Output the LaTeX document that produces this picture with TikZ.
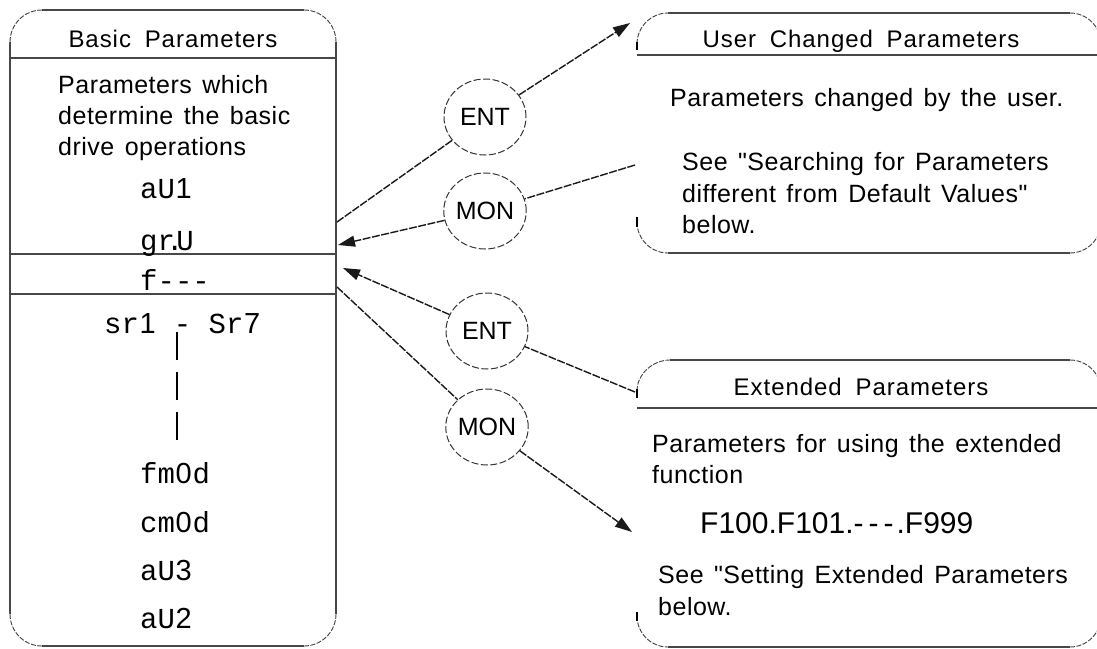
\documentclass[tikz,border=0pt]{standalone}
\usepackage{fontspec}
\newfontfamily\bodyf{Liberation Sans}[LetterSpace=2,WordSpace=1.4]
\newfontfamily\titlef{Liberation Sans}[LetterSpace=4,WordSpace=1.8]
\newfontfamily\codef{Liberation Mono}
\newfontfamily\digf{Liberation Sans}
\newfontfamily\keyf{Liberation Sans}
\newcommand\sdig[1]{{\digf\kern0.6pt#1\kern0.8pt}}
\usetikzlibrary{arrows.meta,shapes.geometric}
\tikzset{
  boxline/.style={line width=1.8pt, draw=black!72},
  cornerline/.style={line width=0.9pt, draw=black!75, dash pattern=on 5pt off 1.5pt},
  tickline/.style={line width=2pt, draw=black},
  keycirc/.style={ellipse, draw=black!80, line width=1pt, dash pattern=on 7pt off 2.5pt,
    minimum width=82pt, minimum height=76pt, inner sep=0pt, font=\keyf\fontsize{25}{30}\selectfont},
  conn/.style={line width=1.4pt, draw=black!90, dash pattern=on 8pt off 1.5pt},
  arrowtip/.style={-{Triangle[length=17pt,width=11pt]}},
  bodytext/.style={anchor=base west, inner sep=0pt, font=\bodyf\fontsize{25}{30}\selectfont},
  titletext/.style={anchor=base, inner sep=0pt, font=\titlef\fontsize{24}{28}\selectfont},
  codetext/.style={anchor=base west, inner sep=0pt, font=\codef\fontsize{29}{33}\selectfont},
  numtext/.style={anchor=base west, inner sep=0pt, font=\keyf\fontsize{30}{34}\selectfont},
  contline/.style={line width=2pt, draw=black, dash pattern=on 28pt off 12pt}
}
\begin{document}
\begin{tikzpicture}[x=1pt,y=-1pt]
\useasboundingbox (0,0) rectangle (1097,648);

% ---------- Basic Parameters box ----------
\draw[boxline] (42,10) -- (304,10);
\draw[boxline] (42,646) -- (304,646);
\draw[boxline] (10,42) -- (10,614);
\draw[boxline] (336,42) -- (336,614);
\draw[cornerline] (10,42) .. controls (10,24.3) and (24.3,10) .. (42,10);
\draw[cornerline] (304,10) .. controls (321.7,10) and (336,24.3) .. (336,42);
\draw[cornerline] (10,614) .. controls (10,631.7) and (24.3,646) .. (42,646);
\draw[cornerline] (304,646) .. controls (321.7,646) and (336,631.7) .. (336,614);
\draw[boxline] (10,58) -- (336,58);
\draw[boxline] (10,254) -- (336,254);
\draw[boxline] (10,294) -- (336,294);

\node[titletext] (bt) at (173,47) {Basic Parameters};
\node[bodytext] (b1) at (58,93) {Parameters which};
\node[bodytext] (b2) at (58,124) {determine the basic};
\node[bodytext] (b3) at (58,155) {drive  operations};
\node[codetext] (c1) at (140,198) {aU\sdig{1}};
\node[codetext] (c2) at (140,250) {gr\kern-9pt.\kern-7pt U};
\node[codetext] (c3) at (140,290) {f---};
\node[codetext] (c4) at (104,333) {sr\sdig{1} - Sr\sdig{7}};
\coordinate (vtop) at (177,332);
\coordinate (vbot) at (177,442);
\draw[contline] (vtop) -- (vbot);
\node[codetext] (c5) at (140,483) {fm\sdig{0}d};
\node[codetext] (c6) at (140,532) {cm\sdig{0}d};
\node[codetext] (c7) at (140,580) {aU\sdig{3}};
\node[codetext] (c8) at (140,628) {aU\sdig{2}};

% ---------- User Changed Parameters box ----------
\draw[boxline] (668,13) -- (1070,13);
\draw[boxline] (668,253) -- (1070,253);
\draw[boxline] (637,55) -- (1101,55);
\draw[boxline] (1101,44) -- (1101,222);
\draw[cornerline] (637,44) .. controls (637,26.9) and (650.9,13) .. (668,13);
\draw[cornerline] (1070,13) .. controls (1087.1,13) and (1101,26.9) .. (1101,44);
\draw[cornerline] (637,222) .. controls (637,239.1) and (650.9,253) .. (668,253);
\draw[cornerline] (1070,253) .. controls (1087.1,253) and (1101,239.1) .. (1101,222);
\draw[tickline] (637,42) -- (637,50);
\draw[tickline] (637,217) -- (637,227);

\node[titletext] (ut) at (861,47) {User Changed Parameters};
\node[bodytext] (u1) at (670,106) {Parameters changed by the user.};
\node[bodytext] (u2) at (682,170) {See "Searching for Parameters};
\node[bodytext] (u3) at (682,202) {different from Default Values"};
\node[bodytext] (u4) at (682,233) {below.};

% ---------- Extended Parameters box ----------
\draw[boxline] (670,360) -- (1070,360);
\draw[boxline] (668,647) -- (1070,647);
\draw[boxline] (637,408) -- (1101,408);
\draw[boxline] (1101,391) -- (1101,616);
\draw[cornerline] (637,391) .. controls (637,373.9) and (652.9,360) .. (670,360);
\draw[cornerline] (1070,360) .. controls (1087.1,360) and (1101,373.9) .. (1101,391);
\draw[cornerline] (637,616) .. controls (637,633.1) and (650.9,647) .. (668,647);
\draw[cornerline] (1070,647) .. controls (1087.1,647) and (1101,633.1) .. (1101,616);
\draw[tickline] (637,389) -- (637,398);
\draw[tickline] (637,612) -- (637,621);

\node[titletext] (et) at (861,395) {Extended Parameters};
\node[bodytext] (e1) at (652,452) {Parameters for using the extended};
\node[bodytext] (e2) at (652,483) {function};
\node[numtext] (e3) at (700,533) {F100.F101.-\kern5pt-\kern5pt-\kern3pt.F999};
\node[bodytext] (e4) at (658,583) {See "Setting Extended Parameters};
\node[bodytext] (e5) at (658,615) {below.};

% ---------- keys ----------
\node[keycirc] (ent1) at (485,117) {ENT};
\node[keycirc] (mon1) at (485,211) {MON};
\node[keycirc] (ent2) at (487,331) {ENT};
\node[keycirc] (mon2) at (487,427) {MON};

% ---------- connectors ----------
\coordinate (bOut1) at (337,222);
\coordinate (uIn) at (630,23);
\coordinate (uOut) at (635,165);
\coordinate (bIn1) at (338,245);
\coordinate (eOut) at (635,392);
\coordinate (bIn2) at (343,268);
\coordinate (bOut2) at (337,287);
\coordinate (eIn) at (632,532);

\draw[conn] (bOut1) -- (ent1);
\draw[conn,arrowtip] (ent1) -- (uIn);
\draw[conn] (uOut) -- (mon1);
\draw[conn,arrowtip] (mon1) -- (bIn1);
\draw[conn] (eOut) -- (ent2);
\draw[conn,arrowtip] (ent2) -- (bIn2);
\draw[conn] (bOut2) -- (mon2);
\draw[conn,arrowtip] (mon2) -- (eIn);
\end{tikzpicture}
\end{document}
